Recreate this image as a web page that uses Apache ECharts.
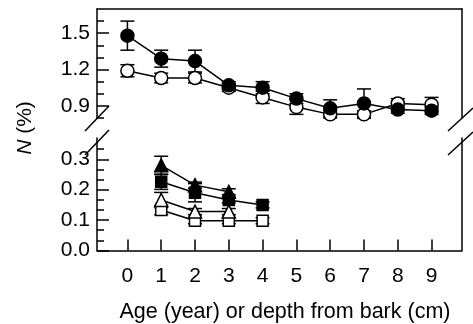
<!DOCTYPE html>
<html><head><meta charset="utf-8">
<script src="https://cdn.jsdelivr.net/npm/echarts@6/dist/echarts.min.js"></script>
<style>html,body{margin:0;padding:0;background:#fff}#c{width:473px;height:324px}</style>
</head><body><div id="c"></div>
<script>
// ---- data ----
var xUpper = [0, 1, 2, 3, 4, 5, 6, 7, 8, 9];
var filledCircle    = [1.48, 1.29, 1.27, 1.07, 1.05, 0.96, 0.88, 0.92, 0.87, 0.86];
var filledCircleErr = [0.12, 0.07, 0.09, 0.03, 0.05, 0.04, 0.07, 0.12, 0.03, 0.03];
var openCircle      = [1.19, 1.13, 1.13, 1.05, 0.97, 0.89, 0.83, 0.83, 0.92, 0.91];
var openCircleErr   = [0.05, 0.04, 0.04, 0.03, 0.05, 0.06, 0.03, 0.03, 0.04, 0.06];

var xTri = [1, 2, 3];
var xSq = [1, 2, 3, 4];
var filledTriangle    = [0.28, 0.215, 0.193];
var filledTriangleErr = [0.03, 0.01, 0.01];
var filledSquare      = [0.226, 0.19, 0.166, 0.15];
var filledSquareErr   = [0.025, 0.03, 0.01, 0.01];
var openTriangle      = [0.166, 0.128, 0.128];
var openTriangleErr   = [0.025, 0.01, 0.01];
var openSquare        = [0.133, 0.098, 0.098, 0.098];
var openSquareErr     = [0.015, 0.01, 0.01, 0.01];

var xTicks = [0, 1, 2, 3, 4, 5, 6, 7, 8, 9];
var upperMajor = [0.9, 1.2, 1.5];
var upperMinor = [0.8, 1.0, 1.1, 1.3, 1.4, 1.6];
var lowerMajor = [0.0, 0.1, 0.2, 0.3];
var lowerMinor = [0.0333, 0.0667, 0.1333, 0.1667, 0.2333, 0.2667, 0.3333];

var xTitle = 'Age (year) or depth from bark (cm)';

// ---- build ----
var FONT = 'Liberation Sans, Arial, sans-serif';
var FS = 21;
var LW = 1.5;
function pairs(xs, ys) { return xs.map(function (x, i) { return [x, ys[i]]; }); }
function triples(xs, ys, es) { return xs.map(function (x, i) { return [x, ys[i], es[i]]; }); }

function errSeries(xs, ys, es, gi) {
  return {
    type: 'custom', xAxisIndex: gi, yAxisIndex: gi === 0 ? 0 : 3, z: 1,
    data: triples(xs, ys, es), clip: false,
    renderItem: function (params, api) {
      var x = api.value(0), y = api.value(1), e = api.value(2);
      var t = api.coord([x, y + e]), b = api.coord([x, y - e]);
      var w = 7;
      var st = { stroke: '#000', lineWidth: LW };
      return { type: 'group', children: [
        { type: 'line', shape: { x1: t[0], y1: t[1], x2: b[0], y2: b[1] }, style: st },
        { type: 'line', shape: { x1: t[0] - w, y1: t[1], x2: t[0] + w, y2: t[1] }, style: st },
        { type: 'line', shape: { x1: b[0] - w, y1: b[1], x2: b[0] + w, y2: b[1] }, style: st }
      ]};
    }
  };
}
function lineSeries(xs, ys, sym, size, filled, gi) {
  return {
    type: 'line', xAxisIndex: gi, yAxisIndex: gi === 0 ? 0 : 3, z: 3,
    data: pairs(xs, ys), symbol: sym, symbolSize: size, showAllSymbol: true,
    lineStyle: { color: '#000', width: LW },
    itemStyle: { color: filled ? '#000' : '#fff', borderColor: '#000', borderWidth: LW },
    emphasis: { disabled: true }, animation: false
  };
}

var hidden = { show: false };
var noLine = { show: false, onZero: false };
var option = {
  animation: false,
  backgroundColor: '#fff',
  grid: [
    { left: 97, right: 11, top: 9, height: 109 },
    { left: 97, right: 11, top: 138, height: 112.5 }
  ],
  xAxis: [
    { gridIndex: 0, type: 'value', min: -0.9, max: 9.9, position: 'top',
      axisLine: { show: true, onZero: false, lineStyle: { color: '#000', width: LW } },
      axisTick: hidden, axisLabel: hidden, splitLine: hidden },
    { gridIndex: 1, type: 'value', min: -0.9, max: 9.9, position: 'bottom',
      axisLine: { show: true, onZero: false, lineStyle: { color: '#000', width: LW } },
      axisTick: { show: true, inside: true, length: 11, customValues: xTicks, lineStyle: { color: '#000', width: LW } },
      axisLabel: { show: true, customValues: xTicks, margin: 15, color: '#000', fontSize: FS, fontFamily: FONT },
      splitLine: hidden }
  ],
  yAxis: [
    { gridIndex: 0, type: 'value', min: 0.8, max: 1.7, position: 'left',
      axisLine: { show: true, onZero: false, lineStyle: { color: '#000', width: LW } },
      axisTick: { show: true, inside: true, length: 12, customValues: upperMajor, lineStyle: { color: '#000', width: LW } },
      axisLabel: { show: true, customValues: upperMajor, margin: 7, color: '#000', fontSize: FS, fontFamily: FONT,
        formatter: function (v) { return (+v).toFixed(1); } },
      splitLine: hidden },
    { gridIndex: 0, type: 'value', min: 0.8, max: 1.7, position: 'left',
      axisLine: noLine,
      axisTick: { show: true, inside: true, length: 7, customValues: upperMinor, lineStyle: { color: '#000', width: LW } },
      axisLabel: hidden, splitLine: hidden },
    { gridIndex: 0, type: 'value', min: 0.8, max: 1.7, position: 'right',
      axisLine: { show: true, onZero: false, lineStyle: { color: '#000', width: LW } },
      axisTick: hidden, axisLabel: hidden, splitLine: hidden },
    { gridIndex: 1, type: 'value', min: 0, max: 0.37, position: 'left',
      axisLine: { show: true, onZero: false, lineStyle: { color: '#000', width: LW } },
      axisTick: { show: true, inside: true, length: 12, customValues: lowerMajor, lineStyle: { color: '#000', width: LW } },
      axisLabel: { show: true, customValues: lowerMajor, margin: 7, color: '#000', fontSize: FS, fontFamily: FONT,
        formatter: function (v) { return (+v).toFixed(1); } },
      splitLine: hidden },
    { gridIndex: 1, type: 'value', min: 0, max: 0.37, position: 'left',
      axisLine: noLine,
      axisTick: { show: true, inside: true, length: 7, customValues: lowerMinor, lineStyle: { color: '#000', width: LW } },
      axisLabel: hidden, splitLine: hidden },
    { gridIndex: 1, type: 'value', min: 0, max: 0.37, position: 'right',
      axisLine: { show: true, onZero: false, lineStyle: { color: '#000', width: LW } },
      axisTick: hidden, axisLabel: hidden, splitLine: hidden }
  ],
  series: [
    errSeries(xUpper, openCircle, openCircleErr, 0),
    errSeries(xUpper, filledCircle, filledCircleErr, 0),
    lineSeries(xUpper, openCircle, 'circle', 13, false, 0),
    lineSeries(xUpper, filledCircle, 'circle', 13, true, 0),
    errSeries(xSq, openSquare, openSquareErr, 1),
    errSeries(xTri, openTriangle, openTriangleErr, 1),
    errSeries(xSq, filledSquare, filledSquareErr, 1),
    errSeries(xTri, filledTriangle, filledTriangleErr, 1),
    lineSeries(xSq, openSquare, 'rect', 11, false, 1),
    lineSeries(xTri, openTriangle, 'triangle', 13, false, 1),
    lineSeries(xSq, filledSquare, 'rect', 11, true, 1),
    lineSeries(xTri, filledTriangle, 'triangle', 13, true, 1)
  ],
  graphic: [
    { type: 'line', shape: { x1: 85, y1: 131, x2: 109, y2: 106 }, style: { stroke: '#000', lineWidth: LW } },
    { type: 'line', shape: { x1: 85, y1: 155, x2: 109, y2: 130 }, style: { stroke: '#000', lineWidth: LW } },
    { type: 'line', shape: { x1: 448, y1: 131, x2: 473, y2: 108 }, style: { stroke: '#000', lineWidth: LW } },
    { type: 'line', shape: { x1: 448, y1: 155, x2: 473, y2: 132 }, style: { stroke: '#000', lineWidth: LW } },
    { type: 'text', x: 25, y: 128, rotation: Math.PI / 2,
      style: { text: '{i|N} (%)', rich: { i: { fontStyle: 'italic', fontSize: FS, fontFamily: FONT, fill: '#000' } },
        fontSize: FS, fontFamily: FONT, fill: '#000', align: 'center', verticalAlign: 'middle' } },
    { type: 'text', x: 285, y: 312,
      style: { text: xTitle, fontSize: 21.5, fontFamily: FONT, fill: '#000', align: 'center', verticalAlign: 'middle' } }
  ]
};
var chart = echarts.init(document.getElementById('c'), null, { renderer: 'canvas' });
chart.setOption(option);
</script>
</body></html>
